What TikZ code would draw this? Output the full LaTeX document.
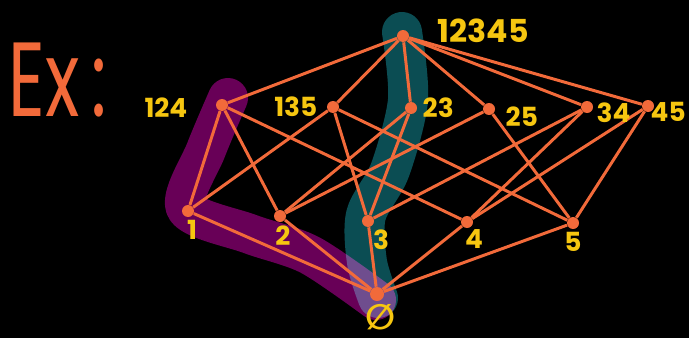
\documentclass[tikz,border=0pt]{standalone}
\usepackage{fontspec}
\setmainfont{Poppins}
\newfontfamily\symbolfont{DejaVu Sans}
\usepackage{graphicx}
\usepackage{tikz}
\usetikzlibrary{positioning}
\definecolor{coral}{HTML}{F26A3A}
\definecolor{gold}{HTML}{F6C610}
\definecolor{plum}{HTML}{680057}
\definecolor{deepteal}{HTML}{0B4D53}
\tikzset{
  vertex/.style={circle, fill=coral, inner sep=0pt, minimum size=0.24cm},
  setlabel/.style={text=gold, inner sep=0pt, font=\fontsize{15}{15}\selectfont\bfseries},
  edge/.style={draw=coral, line width=1.7pt},
  band/.style={line width=0.8cm, line cap=round, line join=round},
}

\begin{document}
\begin{tikzpicture}[x=0.02cm, y=-0.02cm]

  \fill[black] (0,0) rectangle (689,338);
  \useasboundingbox (0,0) rectangle (689,338);

  \draw [band, deepteal] plot[smooth] coordinates {(402,32) (408,100) (390,170) (366,215) (367,262) (378,298)};
  \draw [band, plum, blend mode=screen] plot[smooth] coordinates {(228,98) (206,150) (186,208) (250,234) (310,255) (376,300)};

  \node (ex) [text=coral, inner sep=0pt, font=\fontsize{60}{60}\selectfont] at (58,80) {\scalebox{0.68}[1]{Ex\,:}};

  \node (top) [vertex] at (403,36) {};
  \node (v124) [vertex] at (222,105) {};
  \node (v135) [vertex] at (333,107) {};
  \node (v23) [vertex] at (411,108) {};
  \node (v25) [vertex] at (489,109) {};
  \node (v34) [vertex] at (587,107) {};
  \node (v45) [vertex] at (648,106) {};
  \node (v1) [vertex] at (188,211) {};
  \node (v2) [vertex] at (280,216) {};
  \node (v3) [vertex] at (368,221) {};
  \node (v4) [vertex] at (467,222) {};
  \node (v5) [vertex] at (573,223) {};
  \node (empty) [vertex, minimum size=0.28cm] at (377,294) {};

  \foreach \s in {v124,v135,v23,v25,v34,v45}
    \draw [edge] (top) -- (\s);
  \foreach \a/\b in {v124/v1, v124/v2, v124/v4, v135/v1, v135/v3, v135/v5, v23/v2, v23/v3,
                     v25/v2, v25/v5, v34/v3, v34/v4, v45/v4, v45/v5}
    \draw [edge] (\a) -- (\b);
  \foreach \s in {v1,v2,v3,v4,v5}
    \draw [edge] (\s) -- (empty);

  \node (l12345) [setlabel, font=\fontsize{18}{18}\selectfont\bfseries, right=0.56cm of top, yshift=0.1cm] {12345};
  \node (l124) [setlabel, left=0.56cm of v124, yshift=-0.06cm] {124};
  \node (l135) [setlabel, left=0.18cm of v135] {135};
  \node (l23) [setlabel, right=0.1cm of v23] {23};
  \node (l25) [setlabel, right=0.2cm of v25, yshift=-0.16cm] {25};
  \node (l34) [setlabel, right=0.06cm of v34, yshift=-0.12cm] {34};
  \node (l45) [setlabel, right=0cm of v45, xshift=-0.08cm, yshift=-0.12cm] {45};
  \node (l1) [setlabel, below=0.06cm of v1, xshift=0.08cm] {1};
  \node (l2) [setlabel, below=0.06cm of v2, xshift=0.06cm] {2};
  \node (l3) [setlabel, below=0.04cm of v3, xshift=0.26cm] {3};
  \node (l4) [setlabel, below=0.02cm of v4, xshift=0.14cm] {4};
  \node (l5) [setlabel, below=0.06cm of v5] {5};
  \node (lempty) [setlabel, font=\symbolfont\fontsize{20}{20}\selectfont\bfseries, below=0.05cm of empty, xshift=0.08cm] {∅};

\end{tikzpicture}
\end{document}
